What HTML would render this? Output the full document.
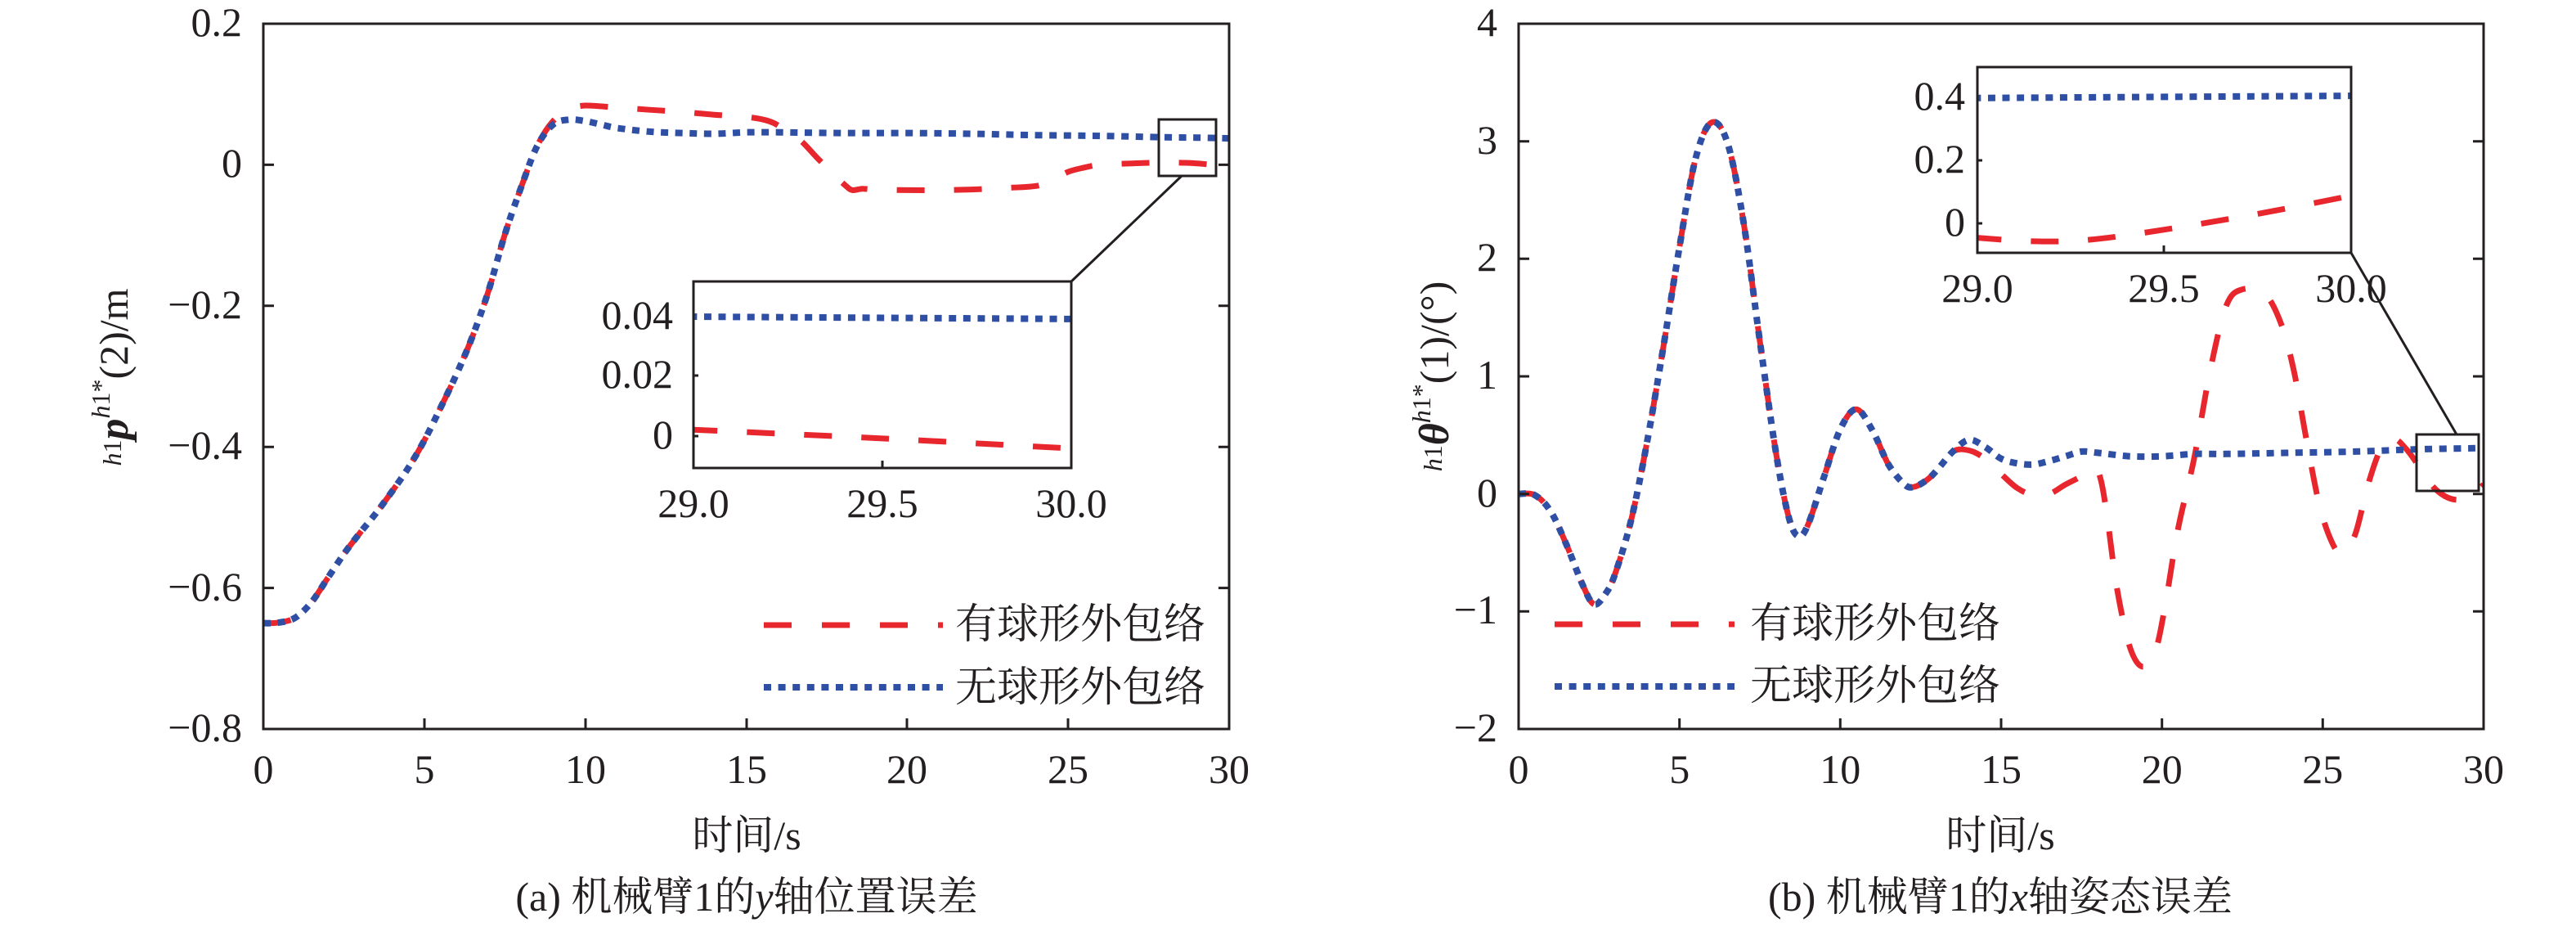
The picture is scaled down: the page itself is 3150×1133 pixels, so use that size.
<!DOCTYPE html>
<html>
<head>
<meta charset="utf-8">
<style>
html,body{margin:0;padding:0;background:#fff;}
body{width:3150px;height:1133px;overflow:hidden;}
svg{display:block;}
text{font-family:"Liberation Serif","Noto Serif CJK SC",serif;fill:#231f20;}
.cjk{font-family:"Liberation Serif","Noto Serif CJK SC","Noto Sans CJK SC",serif;}
</style>
</head>
<body>
<svg id="s" width="3150" height="1133" viewBox="0 0 3150 1133" xmlns="http://www.w3.org/2000/svg">
<defs>
<clipPath id="ca"><rect x="322" y="29" width="1181" height="862"/></clipPath>
<clipPath id="cb"><rect x="1857" y="29" width="1180" height="862"/></clipPath>
<clipPath id="cia"><rect x="848" y="344" width="462" height="228"/></clipPath>
<clipPath id="cib"><rect x="2418" y="82" width="457" height="227"/></clipPath>
</defs>

<!-- ===== Plot A ===== -->
<g id="curvesA" clip-path="url(#ca)"></g>
<g stroke="#231f20" stroke-width="3" fill="none">
<rect x="322" y="29" width="1181" height="862"/>
<path d="M519,891V878M716,891V878M913,891V878M1109,891V878M1306,891V878"/>
<path d="M322,201.4H335M322,373.8H335M322,546.2H335M322,718.6H335"/>
<path d="M1503,201.4H1490M1503,373.8H1490M1503,546.2H1490M1503,718.6H1490"/>
<rect x="1417" y="146" width="70" height="69"/>
<path d="M1445,215L1310,344"/>
</g>
<g font-size="50" text-anchor="end">
<text x="296" y="44">0.2</text>
<text x="296" y="216">0</text>
<text x="296" y="389">−0.2</text>
<text x="296" y="561">−0.4</text>
<text x="296" y="734">−0.6</text>
<text x="296" y="906">−0.8</text>
</g>
<g font-size="50" text-anchor="middle">
<text x="322" y="957">0</text>
<text x="519" y="957">5</text>
<text x="716" y="957">10</text>
<text x="913" y="957">15</text>
<text x="1109" y="957">20</text>
<text x="1306" y="957">25</text>
<text x="1503" y="957">30</text>
</g>
<!-- inset A -->
<rect x="848" y="344" width="462" height="228" fill="#fff"/>
<g id="curvesIA" clip-path="url(#cia)"></g>
<g stroke="#231f20" stroke-width="3" fill="none">
<rect x="848" y="344" width="462" height="228"/>
<path d="M1079,572V563M848,459H854M848,533H854"/>
</g>
<g font-size="50" text-anchor="end">
<text x="823" y="402">0.04</text>
<text x="823" y="474">0.02</text>
<text x="823" y="548">0</text>
</g>
<g font-size="50" text-anchor="middle">
<text x="848" y="632">29.0</text>
<text x="1079" y="632">29.5</text>
<text x="1310" y="632">30.0</text>
</g>
<!-- legend A -->
<path d="M934,764H1153" stroke="#e8262d" stroke-width="7" stroke-dasharray="34 37" fill="none"/>
<path d="M934,840H1153" stroke="#2f4fa5" stroke-width="8" stroke-dasharray="9 8.6" fill="none"/>
<text class="cjk" x="1168" y="780" font-size="51">有球形外包络</text>
<text class="cjk" x="1168" y="857" font-size="51">无球形外包络</text>
<!-- axis labels A -->
<text class="cjk" x="913" y="1038" font-size="50" text-anchor="middle">时间/s</text>
<text class="cjk" x="913" y="1113" font-size="50" text-anchor="middle">(a) 机械臂1的<tspan font-style="italic">y</tspan>轴位置误差</text>
<text transform="translate(156,461) rotate(-90)" text-anchor="middle" font-size="50"><tspan font-style="italic" font-size="32" dy="-8">h</tspan><tspan font-size="32">1</tspan><tspan font-weight="bold" font-style="italic" font-size="52" dy="8">p</tspan><tspan font-style="italic" font-size="32" dy="-22">h</tspan><tspan font-size="32">1*</tspan><tspan dy="22">(2)/m</tspan></text>

<!-- ===== Plot B ===== -->
<g id="curvesB" clip-path="url(#cb)"></g>
<g stroke="#231f20" stroke-width="3" fill="none">
<rect x="1857" y="29" width="1180" height="862"/>
<path d="M2053.7,891V878M2250.3,891V878M2447,891V878M2643.7,891V878M2840.3,891V878"/>
<path d="M1857,172.7H1870M1857,316.3H1870M1857,460H1870M1857,603.7H1870M1857,747.3H1870"/>
<path d="M3037,172.7H3024M3037,316.3H3024M3037,460H3024M3037,603.7H3024M3037,747.3H3024"/>
<rect x="2955" y="531" width="76" height="69"/>
<path d="M3004,531L2875,309"/>
</g>
<g font-size="50" text-anchor="end">
<text x="1831" y="44">4</text>
<text x="1831" y="188">3</text>
<text x="1831" y="331">2</text>
<text x="1831" y="475">1</text>
<text x="1831" y="619">0</text>
<text x="1831" y="762">−1</text>
<text x="1831" y="906">−2</text>
</g>
<g font-size="50" text-anchor="middle">
<text x="1857" y="957">0</text>
<text x="2053.7" y="957">5</text>
<text x="2250.3" y="957">10</text>
<text x="2447" y="957">15</text>
<text x="2643.7" y="957">20</text>
<text x="2840.3" y="957">25</text>
<text x="3037" y="957">30</text>
</g>
<!-- inset B -->
<rect x="2418" y="82" width="457" height="227" fill="#fff"/>
<g id="curvesIB" clip-path="url(#cib)"></g>
<g stroke="#231f20" stroke-width="3" fill="none">
<rect x="2418" y="82" width="457" height="227"/>
<path d="M2646,309V300M2418,196H2424M2418,273H2424"/>
</g>
<g font-size="50" text-anchor="end">
<text x="2403" y="134">0.4</text>
<text x="2403" y="211">0.2</text>
<text x="2403" y="288">0</text>
</g>
<g font-size="50" text-anchor="middle">
<text x="2418" y="369">29.0</text>
<text x="2646" y="369">29.5</text>
<text x="2875" y="369">30.0</text>
</g>
<!-- legend B -->
<path d="M1901,763H2121" stroke="#e8262d" stroke-width="7" stroke-dasharray="34 37" fill="none"/>
<path d="M1901,839H2121" stroke="#2f4fa5" stroke-width="8" stroke-dasharray="9 8.6" fill="none"/>
<text class="cjk" x="2140" y="779" font-size="51">有球形外包络</text>
<text class="cjk" x="2140" y="855" font-size="51">无球形外包络</text>
<!-- axis labels B -->
<text class="cjk" x="2446" y="1038" font-size="50" text-anchor="middle">时间/s</text>
<text class="cjk" x="2446" y="1113" font-size="50" text-anchor="middle">(b) 机械臂1的<tspan font-style="italic">x</tspan>轴姿态误差</text>
<text transform="translate(1771,460) rotate(-90)" text-anchor="middle" font-size="50"><tspan font-style="italic" font-size="32" dy="-8">h</tspan><tspan font-size="32">1</tspan><tspan font-weight="bold" font-style="italic" font-size="52" dy="8">θ</tspan><tspan font-style="italic" font-size="32" dy="-22">h</tspan><tspan font-size="32">1*</tspan><tspan dy="22">(1)/(°)</tspan></text>
</svg>

<script>
(function(){
var NS="http://www.w3.org/2000/svg";
var RED="#e8262d", BLUE="#2f4fa5";
function path(pts,X,Y){
  var p=pts.map(function(a){return [X(a[0]),Y(a[1])];});
  var d="M"+p[0][0].toFixed(1)+","+p[0][1].toFixed(1);
  for(var i=0;i<p.length-1;i++){
    var p0=p[i-1]||p[i],p1=p[i],p2=p[i+1],p3=p[i+2]||p[i+1];
    var c1x=p1[0]+(p2[0]-p0[0])/6,c1y=p1[1]+(p2[1]-p0[1])/6;
    var c2x=p2[0]-(p3[0]-p1[0])/6,c2y=p2[1]-(p3[1]-p1[1])/6;
    d+="C"+c1x.toFixed(1)+","+c1y.toFixed(1)+" "+c2x.toFixed(1)+","+c2y.toFixed(1)+" "+p2[0].toFixed(1)+","+p2[1].toFixed(1);
  }
  return d;
}
function add(gid,d,color,red){
  var e=document.createElementNS(NS,"path");
  e.setAttribute("d",d);
  e.setAttribute("fill","none");
  e.setAttribute("stroke",color);
  e.setAttribute("stroke-width",red?"7":"8");
  e.setAttribute("stroke-dasharray",red?"34 36":"9 8.6");
  e.setAttribute("stroke-linejoin","round");
  document.getElementById(gid).appendChild(e);
}
var XA=function(t){return 322+t*1181/30;}, YA=function(v){return 29+(0.2-v)*862;};
var commonA=[[0,-0.65],[0.5,-0.649],[1,-0.642],[1.5,-0.62],[2,-0.586],[2.5,-0.552],[3,-0.522],[3.5,-0.494],[4,-0.463],[4.5,-0.43],[5,-0.391],[5.5,-0.345],[6,-0.297],[6.5,-0.243],[7,-0.178],[7.5,-0.099],[8,-0.033],[8.5,0.026]];
var blueA=commonA.concat([[9,0.057],[9.5,0.064],[10,0.062],[10.5,0.057],[11,0.052],[12,0.047],[13,0.045],[14,0.044],[15,0.046],[16,0.046],[18,0.045],[20,0.045],[22,0.044],[24,0.042],[26,0.041],[28,0.039],[29,0.0385],[30,0.0375]]);
var redA=commonA.concat([[9,0.062],[9.5,0.078],[10,0.084],[11,0.081],[12,0.078],[13,0.075],[14,0.071],[15,0.068],[15.7,0.062],[16.2,0.05],[16.7,0.034],[17.2,0.01],[17.7,-0.013],[18.1,-0.03],[18.3,-0.036],[18.6,-0.034],[19,-0.035],[20,-0.036],[21,-0.036],[22,-0.035],[23,-0.033],[24,-0.03],[24.5,-0.022],[25,-0.01],[25.5,-0.004],[26,0.0],[27,0.002],[28,0.003],[29,0.002],[30,-0.003]]);
add("curvesA",path(redA,XA,YA),RED,true);
add("curvesA",path(blueA,XA,YA),BLUE,false);
var XIA=function(t){return 848+(t-29)*462;}, YIA=function(v){return 533-v*3650;};
add("curvesIA",path([[28.99,0.0022],[29.5,-0.0008],[30.01,-0.0042]],XIA,YIA),RED,true);
add("curvesIA",path([[28.99,0.040],[30.01,0.0392]],XIA,YIA),BLUE,false);
var XB=function(t){return 1857+t*1180/30;}, YB=function(v){return 29+(4-v)*862/6;};
var commonB=[[0,0],[0.5,-0.01],[1,-0.15],[1.5,-0.44],[2,-0.78],[2.35,-0.94],[2.7,-0.85],[3,-0.68],[3.5,-0.22],[4,0.45],[4.5,1.25],[5,2.1],[5.5,2.85],[6,3.16],[6.5,2.98],[7,2.3],[7.5,1.3],[8,0.35],[8.4,-0.2],[8.7,-0.36],[9,-0.26],[9.5,0.15],[10,0.55],[10.5,0.72],[11,0.54],[11.5,0.25],[12,0.08],[12.3,0.06],[12.7,0.12],[13,0.2],[13.5,0.36]];
var blueB=commonB.concat([[14,0.46],[14.5,0.4],[15,0.3],[15.5,0.26],[16,0.25],[16.5,0.28],[17,0.32],[17.5,0.36],[18,0.35],[19,0.32],[20,0.32],[21,0.34],[22,0.34],[24,0.35],[26,0.36],[28,0.38],[30,0.39]]);
var redB=commonB.concat([[14,0.37],[14.5,0.3],[15,0.17],[15.5,0.05],[16,-0.01],[16.5,0.0],[17,0.08],[17.5,0.15],[17.9,0.22],[18.1,0.12],[18.3,-0.2],[18.6,-0.8],[19,-1.3],[19.4,-1.47],[19.8,-1.33],[20.1,-0.95],[20.5,-0.3],[21,0.3],[21.5,1.05],[22,1.6],[22.5,1.74],[23.2,1.7],[23.7,1.45],[24.1,1.05],[24.5,0.45],[24.9,-0.1],[25.3,-0.42],[25.6,-0.5],[26,-0.35],[26.4,0.07],[26.8,0.38],[27.2,0.47],[27.6,0.38],[28,0.23],[28.4,0.07],[28.8,-0.02],[29.2,-0.05],[29.6,-0.02],[30,0.08]]);
add("curvesB",path(redB,XB,YB),RED,true);
add("curvesB",path(blueB,XB,YB),BLUE,false);
var XIB=function(t){return 2418+(t-29)*457;}, YIB=function(v){return 273-v*385;};
add("curvesIB",path([[28.99,-0.045],[29.15,-0.057],[29.3,-0.052],[29.5,-0.02],[29.75,0.03],[30.01,0.09]],XIB,YIB),RED,true);
add("curvesIB",path([[28.99,0.398],[30.01,0.405]],XIB,YIB),BLUE,false);
})();
</script>
</body>
</html>
